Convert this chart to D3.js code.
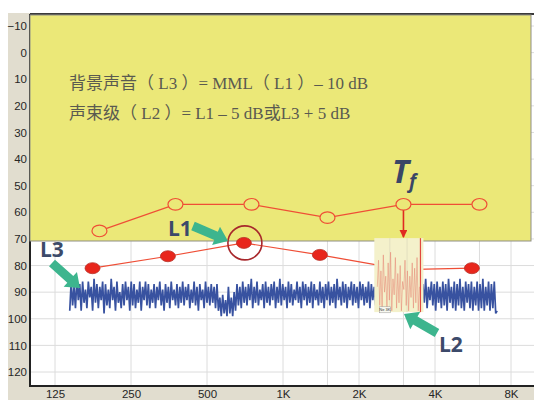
<!DOCTYPE html>
<html>
<head>
<meta charset="utf-8">
<script src="https://cdn.jsdelivr.net/npm/d3@7"></script>
<style>
  body { margin: 0; background: #fff; }
  svg { display: block; }
</style>
</head>
<body>
<div id="chart"></div>
<script>
// axis ticks
const freqTicks = [125, 250, 500, 1000, 2000, 4000, 8000];
const freqLabels = ["125", "250", "500", "1K", "2K", "4K", "8K"];
const halfOctaves = [1500, 3000, 6000];
const dbTicks = [-10, 0, 10, 20, 30, 40, 50, 60, 70, 80, 90, 100, 110, 120];

// open circles (top line, in the yellow box)
const openFreqs = [187.5, 375, 750, 1500, 3000, 6000];
const openDb = [67, 57, 57, 62, 57, 57];

// L1 line, filled dots
const l1Freqs = [176, 350, 700, 1400, 3000, 5600];
const l1Db = [81, 76.5, 71.5, 76, 81.5, 81];

// L3 background noise trace, sampled evenly (log freq) from noiseStart to noiseEnd
const noiseStart = 143, noiseEnd = 7050;
const noiseDb = [
  97, 86, 95, 88, 96, 85, 93, 87, 97, 86, 94, 89, 96, 86, 92, 88, 97, 85, 94, 87,
  96, 88, 93, 86, 98, 87, 95, 89, 96, 85, 93, 88, 97, 86, 94, 90, 96, 87, 95, 86,
  93, 88, 97, 86, 95, 87, 96, 89, 94, 86, 97, 88, 93, 86, 95, 87, 96, 89, 94, 87,
  96, 88, 93, 86, 95, 89, 97, 87, 94, 88, 96, 86, 93, 89, 95, 87, 96, 88, 94, 86,
  95, 88, 93, 87, 96, 89, 94, 86, 95, 88, 97, 87, 93, 89, 96, 86, 94, 88, 95, 87,
  94, 88, 96, 87, 97, 92, 99, 91, 98, 93, 99, 88, 98, 92, 99, 90, 97, 87, 95, 88,
  96, 86, 94, 88, 95, 87, 93, 85, 96, 88, 94, 86, 95, 89, 93, 87, 96, 86, 94, 88,
  95, 87, 93, 86, 96, 88, 94, 85, 95, 87, 93, 88, 96, 86, 94, 87, 95, 89, 93, 86,
  94, 88, 96, 86, 93, 87, 95, 88, 94, 86, 96, 87, 93, 89, 95, 86, 94, 88, 96, 87,
  93, 86, 95, 88, 94, 87, 96, 85, 93, 88, 95, 86, 94, 87, 96, 88, 93, 86, 95, 87,
  94, 88, 96, 86, 93, 87, 95, 88, 94, 86, 96, 87, 93, 88, 95, 86, 94, 87, 96, 88,
  93, 86, 95, 87, 94, 88, 96, 86, 93, 87, 95, 88, 94, 86, 96, 87, 93, 88, 95, 86,
  94, 87, 96, 88, 93, 86, 95, 87, 94, 85, 96, 88, 93, 86, 95, 87, 97, 86, 94, 88,
  96, 86, 95, 87, 97, 85, 94, 88, 96, 86, 97, 87, 95, 85, 96, 88, 97, 86, 94, 87,
  96, 86, 97, 88, 95, 86, 97, 87, 96, 85, 97, 88, 95, 86, 97, 87, 96, 86, 98, 97
];

// Tf inset spectrum
const insetFreqs = [2300, 3600];
const insetDbRange = [69.7, 97.5];
const insetDb = [88, 78, 95, 82, 97, 76, 90, 84, 96, 79, 93, 75, 97, 85, 91, 77, 96, 83,
                 94, 80, 97, 86, 89, 78, 95, 82, 97, 84, 92, 79, 96, 81, 94, 77, 97, 88];

const textLines = ["背景声音（ L3 ）= MML（ L1 ）– 10 dB", "声束级（ L2 ）= L1 – 5 dB或L3 + 5 dB"];

const W = 534, H = 400;
const svg = d3.select("#chart").append("svg").attr("width", W).attr("height", H);

const x = d3.scaleLog().domain([125, 8000]).range([55, 511]);
const y = d3.scaleLinear().domain([-10, 120]).range([26, 372]);
const plot = { left: 30, right: 534, top: 14, bottom: 386 };

// frame
svg.append("rect").attr("x", 8).attr("y", 13).attr("width", W - 8).attr("height", H - 13).attr("fill", "#e1ddcf");
svg.append("rect").attr("x", plot.left).attr("y", plot.top)
  .attr("width", plot.right - plot.left).attr("height", plot.bottom - plot.top).attr("fill", "#fff");

// grid
const grid = svg.append("g").attr("stroke", "#dcdcdc").attr("stroke-width", 1);
freqTicks.concat(halfOctaves).forEach(f => {
  grid.append("line").attr("x1", x(f)).attr("x2", x(f)).attr("y1", plot.top).attr("y2", plot.bottom);
});
dbTicks.forEach(d => {
  grid.append("line").attr("x1", plot.left).attr("x2", plot.right).attr("y1", y(d)).attr("y2", y(d));
});

// axes
const yAxis = svg.append("g").attr("transform", "translate(" + plot.left + ",0)")
  .call(d3.axisLeft(y).tickValues(dbTicks).tickSize(0).tickPadding(3));
const xAxis = svg.append("g").attr("transform", "translate(0," + plot.bottom + ")")
  .call(d3.axisBottom(x).tickValues(freqTicks).tickSize(0).tickPadding(4)
    .tickFormat((d, i) => freqLabels[i]));
[yAxis, xAxis].forEach(a => {
  a.select(".domain").remove();
  a.selectAll("text").attr("font-family", "Liberation Sans, Arial, sans-serif")
    .attr("font-size", 11.5).attr("fill", "#262626");
});
svg.append("line").attr("x1", plot.left).attr("x2", plot.left).attr("y1", plot.top).attr("y2", plot.bottom + 1)
  .attr("stroke", "#222").attr("stroke-width", 2);
svg.append("line").attr("x1", plot.left).attr("x2", plot.right).attr("y1", plot.bottom).attr("y2", plot.bottom)
  .attr("stroke", "#222").attr("stroke-width", 2);
svg.append("line").attr("x1", plot.left).attr("x2", plot.right).attr("y1", plot.top).attr("y2", plot.top)
  .attr("stroke", "#3a3a3a").attr("stroke-width", 2);

// yellow box
svg.append("rect").attr("x", plot.left).attr("y", plot.top + 1)
  .attr("width", 501).attr("height", 226)
  .attr("fill", "#ebe878").attr("stroke", "#8f8f86").attr("stroke-width", 1);

svg.selectAll(".formula").data(textLines).enter().append("text")
  .attr("class", "formula")
  .attr("x", 69).attr("y", (d, i) => 89 + i * 30)
  .attr("font-family", "Liberation Serif, Noto Sans CJK SC, serif")
  .attr("font-size", 17).attr("fill", "#5a5a50")
  .text(d => d);

// noise trace (L3)
const idx = d3.scaleLinear().domain([0, noiseDb.length - 1]).range([Math.log(noiseStart), Math.log(noiseEnd)]);
svg.append("path")
  .datum(noiseDb)
  .attr("fill", "none").attr("stroke", "#3852a0").attr("stroke-width", 1.7)
  .attr("stroke-linejoin", "bevel")
  .attr("d", d3.line().x((d, i) => x(Math.exp(idx(i)))).y(d => y(d)));

// L1 line
const red = "#ef4e36";
const l1Pts = l1Freqs.map((f, i) => [f, l1Db[i]]);
svg.append("path").datum(l1Pts)
  .attr("fill", "none").attr("stroke", red).attr("stroke-width", 1.2)
  .attr("d", d3.line().x(d => x(d[0])).y(d => y(d[1])));
svg.selectAll(".l1dot").data(l1Pts).enter().append("ellipse")
  .attr("class", "l1dot")
  .attr("cx", d => x(d[0])).attr("cy", d => y(d[1]))
  .attr("rx", 7.5).attr("ry", 5.5)
  .attr("fill", "#e8261c").attr("stroke", "#b8322a").attr("stroke-width", 0.8);

// highlight around L1 peak
svg.append("circle").attr("cx", x(l1Pts[2][0]) + 1).attr("cy", y(l1Pts[2][1]))
  .attr("r", 17).attr("fill", "none").attr("stroke", "#a8282c").attr("stroke-width", 1.6);

// Tf inset
const ix = d3.scaleLinear().domain([0, insetDb.length - 1]).range([x(insetFreqs[0]) + 3, x(insetFreqs[1]) - 4]);
const inset = svg.append("g");
inset.append("rect")
  .attr("x", x(insetFreqs[0])).attr("y", y(insetDbRange[0]))
  .attr("width", x(insetFreqs[1]) - x(insetFreqs[0]))
  .attr("height", y(insetDbRange[1]) - y(insetDbRange[0]))
  .attr("fill", "#f4f1cb");
[2650, 3100].forEach(f => {
  inset.append("line").attr("x1", x(f)).attr("x2", x(f))
    .attr("y1", y(insetDbRange[0])).attr("y2", y(insetDbRange[1]))
    .attr("stroke", "#e2dfc0").attr("stroke-width", 1);
});
inset.append("path").datum(insetDb)
  .attr("fill", "none").attr("stroke", "#e58a78").attr("stroke-width", 0.8).attr("opacity", 0.7)
  .attr("d", d3.line().x((d, i) => ix(i)).y(d => y(d)));
inset.append("line")
  .attr("x1", x(insetFreqs[1]) - 3).attr("x2", x(insetFreqs[1]) - 3)
  .attr("y1", y(insetDbRange[0])).attr("y2", y(insetDbRange[1]))
  .attr("stroke", "#e2483e").attr("stroke-width", 1.2);
inset.append("rect").attr("x", x(insetFreqs[0]) + 5).attr("y", y(95.5)).attr("width", 11).attr("height", 6)
  .attr("fill", "#f8f8f0").attr("stroke", "#999").attr("stroke-width", 0.5);
inset.append("text").attr("x", x(insetFreqs[0]) + 10.5).attr("y", y(95.5) + 4.6)
  .attr("text-anchor", "middle").attr("font-family", "Liberation Sans, sans-serif")
  .attr("font-size", 4).attr("fill", "#333").text("Ne 3K");

// open circles line
const openPts = openFreqs.map((f, i) => [f, openDb[i]]);
svg.append("path").datum(openPts)
  .attr("fill", "none").attr("stroke", red).attr("stroke-width", 1.2)
  .attr("d", d3.line().x(d => x(d[0])).y(d => y(d[1])));
svg.selectAll(".open").data(openPts).enter().append("ellipse")
  .attr("class", "open")
  .attr("cx", d => x(d[0])).attr("cy", d => y(d[1]))
  .attr("rx", 7.5).attr("ry", 5.8)
  .attr("fill", "#ebe878").attr("stroke", red).attr("stroke-width", 1.2);

// red arrow from Tf point down to the inset
svg.append("defs").append("marker").attr("id", "redhead")
  .attr("viewBox", "0 0 10 10").attr("refX", 9).attr("refY", 5)
  .attr("markerWidth", 5).attr("markerHeight", 5).attr("orient", "auto")
  .append("path").attr("d", "M0,0L10,5L0,10Z").attr("fill", "#e02a20");
svg.append("line")
  .attr("x1", x(openPts[4][0])).attr("x2", x(openPts[4][0]))
  .attr("y1", y(openPts[4][1]) + 6).attr("y2", y(insetDbRange[0]) - 1)
  .attr("stroke", "#e02a20").attr("stroke-width", 1.6).attr("marker-end", "url(#redhead)");

// green block arrows
function blockArrow(x1, y1, x2, y2) {
  const dx = x2 - x1, dy = y2 - y1, len = Math.hypot(dx, dy);
  const ux = dx / len, uy = dy / len, nx = -uy, ny = ux;
  const shaft = 4.5, head = 10, hl = 13;
  const bx = x2 - ux * hl, by = y2 - uy * hl;
  const p = [
    [x1 + nx * shaft, y1 + ny * shaft], [bx + nx * shaft, by + ny * shaft],
    [bx + nx * head, by + ny * head], [x2, y2],
    [bx - nx * head, by - ny * head], [bx - nx * shaft, by - ny * shaft],
    [x1 - nx * shaft, y1 - ny * shaft]
  ];
  svg.append("path").attr("d", "M" + p.join("L") + "Z").attr("fill", "#3db58e");
}
blockArrow(52, 263, 80, 288);
blockArrow(193, 226, 228, 241);
blockArrow(437, 333, 404, 314);

// labels
const labelFont = "Open Sans, DejaVu Sans, sans-serif";
[["L3", 40, 257], ["L1", 168, 236], ["L2", 439, 352]].forEach(l => {
  svg.append("text").attr("x", l[1]).attr("y", l[2])
    .attr("font-family", labelFont).attr("font-weight", "bold").attr("font-size", 21)
    .attr("fill", "#3c4a6a").text(l[0]);
});
const tf = svg.append("text").attr("x", 392).attr("y", 183)
  .attr("font-family", labelFont).attr("font-weight", "bold").attr("font-style", "italic")
  .attr("fill", "#3a4666");
tf.append("tspan").attr("font-size", 32).text("T");
tf.append("tspan").attr("font-size", 19).attr("dy", 5).text("f");
</script>
</body>
</html>
